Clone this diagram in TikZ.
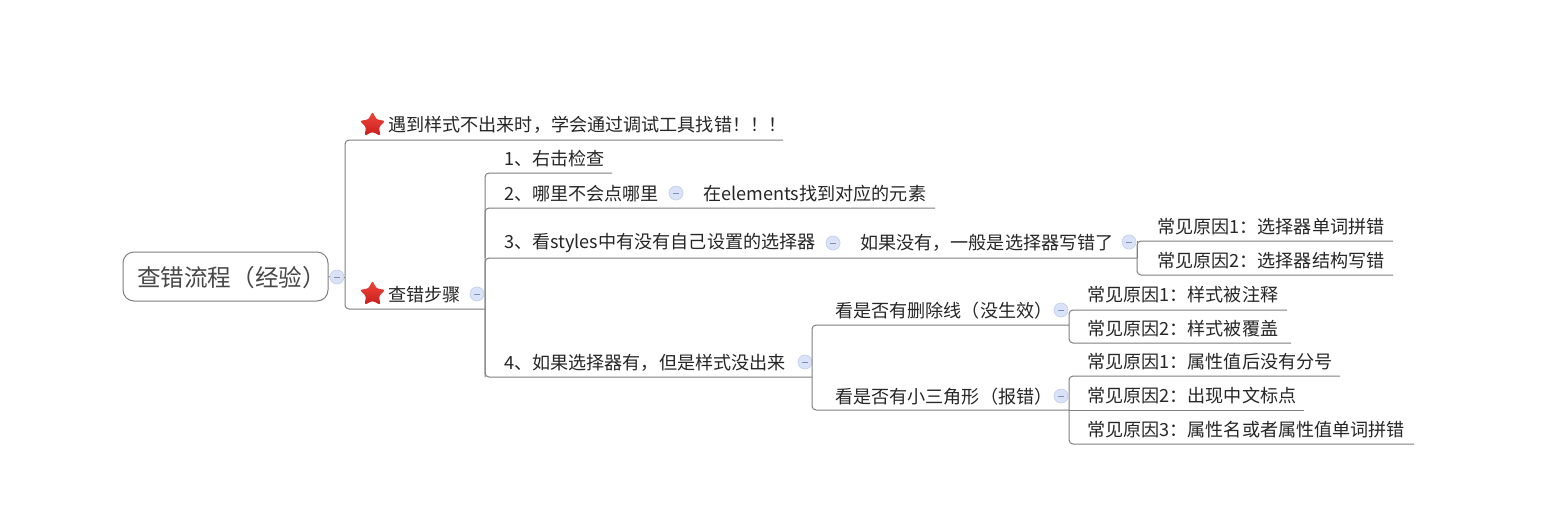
\documentclass[tikz,border=0pt]{standalone}
\usepackage{fontspec}
\setmainfont{Noto Sans CJK SC}
\usetikzlibrary{shapes.geometric}
\definecolor{linegray}{HTML}{7F7F7F}
\definecolor{inkgray}{HTML}{262626}
\definecolor{dotfill}{HTML}{D9E2F6}
\definecolor{dotline}{HTML}{C6D2EC}
\definecolor{dotminus}{HTML}{8090B5}
\definecolor{startop}{HTML}{F0473A}
\definecolor{starbot}{HTML}{C81E1E}
\tikzset{
  x=1pt,y=-1pt,
  label/.style={anchor=west,inner sep=0pt,font=\fontsize{18.1}{20}\selectfont,text=inkgray},
  rootbox/.style={draw=linegray,line width=1pt,rounded corners=11pt,fill=white,minimum width=205pt,minimum height=49pt,inner sep=0pt},
  roottext/.style={inner sep=0pt,font=\fontsize{23.6}{26}\selectfont,text=inkgray!85!white},
  branch/.style={draw=linegray,line width=1pt,rounded corners=4pt},
  dot/.style={circle,draw=dotline,fill=dotfill,line width=.7pt,minimum size=14pt,inner sep=0pt,path picture={\draw[dotminus,line width=1pt] ([xshift=-3pt]path picture bounding box.center)--([xshift=3pt]path picture bounding box.center);}},
  starmark/.style={star,star points=5,star point ratio=2.0,minimum size=27pt,inner sep=0pt,rounded corners=2.5pt,top color=startop,bottom color=starbot,draw=none}
}
\begin{document}
\begin{tikzpicture}
\useasboundingbox[fill=white] (0,0) rectangle (1554,528);
% root
\node[rootbox] (root) at (225.5,276.5) {};
\node[roottext] (roott) at (231.5,278) {查错流程（经验）};
\node[dot] (d0) at (337,277) {};
% level 1
\node[starmark] (s1) at (372.5,125) {};
\node[label] (t1) at (388,125) {遇到样式不出来时，学会通过调试工具找错！！！};
\node[starmark] (s2) at (372.5,294) {};
\node[label] (t2) at (388,294.5) {查错步骤};
\node[dot] (d2) at (477,294) {};
% level 2
\node[label] (a1) at (504,159) {1、右击检查};
\node[label] (a2) at (504,193.5) {2、哪里不会点哪里};
\node[dot] (da2) at (676,193) {};
\node[label] (a2b) at (703,193.5) {在elements找到对应的元素};
\node[label] (a3) at (504,242.5) {3、看styles中有没有自己设置的选择器};
\node[dot] (da3) at (833,243) {};
\node[label] (a3b) at (860,242.5) {如果没有，一般是选择器写错了};
\node[dot] (da3b) at (1129,242) {};
\node[label] (a4) at (504,362.5) {4、如果选择器有，但是样式没出来};
\node[dot] (da4) at (805,362) {};
% level 3
\node[label] (b1) at (1157,226.5) {常见原因1：选择器单词拼错};
\node[label] (b2) at (1157,260.5) {常见原因2：选择器结构写错};
\node[label] (c1) at (835,310.5) {看是否有删除线（没生效）};
\node[dot] (dc1) at (1061,310) {};
\node[label] (c2) at (835,396.5) {看是否有小三角形（报错）};
\node[dot] (dc2) at (1061,396) {};
\node[label] (e1) at (1087,294.5) {常见原因1：样式被注释};
\node[label] (e2) at (1087,328.5) {常见原因2：样式被覆盖};
\node[label] (f1) at (1087,361.5) {常见原因1：属性值后没有分号};
\node[label] (f2) at (1087,395.5) {常见原因2：出现中文标点};
\node[label] (f3) at (1087,429.5) {常见原因3：属性名或者属性值单词拼错};
% connector ends and junctions
\coordinate (j0) at (345,277);
\coordinate (e-t1) at (783,140);
\coordinate (e-t2) at (485,309);
\coordinate (j2) at (485,309);
\coordinate (e-a1) at (612,173);
\coordinate (e-a2) at (935,208);
\coordinate (j3) at (1137,258);
\coordinate (j4) at (812,377);
\coordinate (e-b1) at (1393,241);
\coordinate (e-b2) at (1393,275);
\coordinate (jc1) at (1069,325);
\coordinate (jc2) at (1069,410);
\coordinate (e-e1) at (1287,310);
\coordinate (e-e2) at (1291,343);
\coordinate (e-f1) at (1340,376);
\coordinate (e-f2) at (1304,410);
\coordinate (e-f3) at (1414,444);
% connectors
\draw[branch] (root.east) -- (d0.west);
\draw[branch] (d0.east) -- (j0);
\draw[branch] (e-t1) -- (j0 |- e-t1) -- (j0 |- e-t2) -- (e-t2);
\draw[branch] (e-a1) -- (j2 |- e-a1) -- (j2 |- j4) -- (j4);
\draw[branch] (e-a2) -- (j2 |- e-a2) -- (j2 |- j3);
\draw[branch] (j3) -- (j2 |- j3) -- (j2 |- j4);
\draw[branch] (e-b1) -- (j3 |- e-b1) -- (j3 |- e-b2) -- (e-b2);
\draw[branch] (j3) -- (j3 |- e-b1);
\draw[branch] (jc1) -- (j4 |- jc1) -- (j4 |- jc2) -- (jc2);
\draw[branch] (e-e1) -- (jc1 |- e-e1) -- (jc1 |- e-e2) -- (e-e2);
\draw[branch] (e-f1) -- (jc2 |- e-f1) -- (jc2 |- e-f3) -- (e-f3);
\draw[branch] (e-f2) -- (jc2);
\end{tikzpicture}
\end{document}
